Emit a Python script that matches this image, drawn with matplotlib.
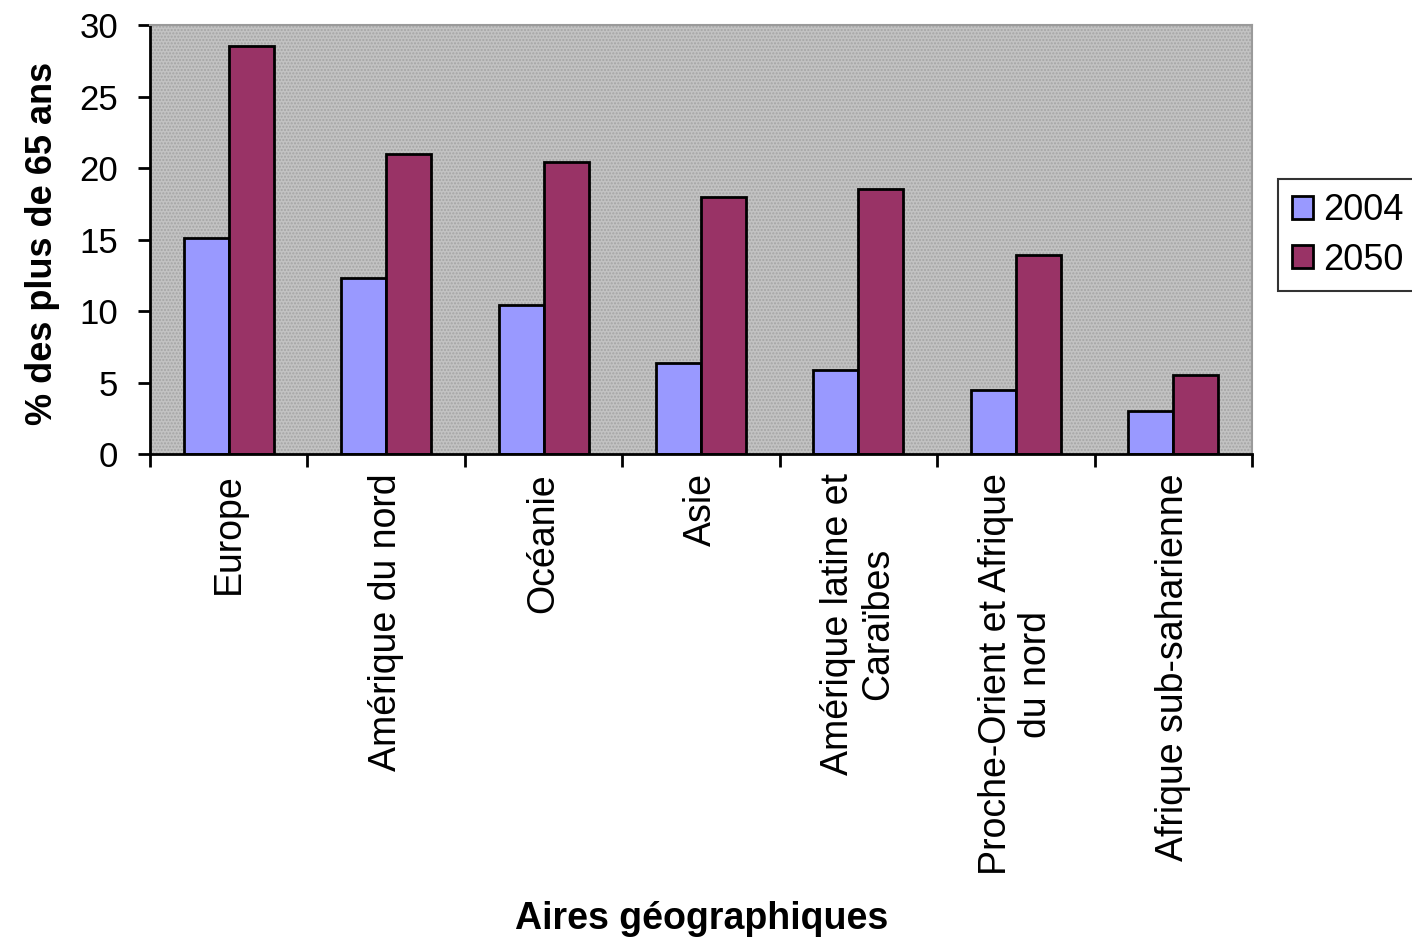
import numpy as np
import matplotlib.pyplot as plt
from matplotlib.patches import Rectangle

plt.rcParams['font.family'] = ['Liberation Sans', 'DejaVu Sans']

categories = ['Europe', 'Amérique du nord', 'Océanie', 'Asie',
              'Amérique latine et\nCaraïbes', 'Proche-Orient et Afrique\ndu nord',
              'Afrique sub-saharienne']
pct_2004 = [15.1, 12.3, 10.4, 6.4, 5.9, 4.5, 3.0]
pct_2050 = [28.5, 21.0, 20.4, 18.0, 18.5, 13.9, 5.5]
series_labels = ['2004', '2050']

fig = plt.figure(figsize=(14.12, 9.44), dpi=100)
ax = fig.add_axes([0.1062, 0.519, 0.7805, 0.4545])

# grey plot area with a fine dotted texture
ax.set_facecolor('#c2c2c2')
bg = Rectangle((0, 0), 1, 1, transform=ax.transAxes, facecolor='none',
               edgecolor='#a4a4a4', hatch='.....', linewidth=0, zorder=0)
ax.add_patch(bg)

x = np.arange(len(categories))
w = 1 / 3.5
ax.bar(x - w / 2, pct_2004, w, color='#9999ff', edgecolor='black',
       linewidth=2, label=series_labels[0], zorder=2)
ax.bar(x + w / 2, pct_2050, w, color='#993366', edgecolor='black',
       linewidth=2, label=series_labels[1], zorder=2)

ax.set_xlim(-0.5, len(categories) - 0.5)
ax.set_ylim(0, 30)
ax.set_yticks(range(0, 31, 5))

# ticks sit between the groups, labels at the group centres
ax.set_xticks(np.arange(-0.5, len(categories) + 0.5, 1))
ax.set_xticklabels([])
ax.tick_params(axis='x', direction='out', length=9, width=2)
ax.tick_params(axis='y', direction='out', length=9, width=2,
               labelsize=25, pad=14)
for xi, name in zip(x, categories):
    ax.text(xi, -1.35, name, rotation=90, ha='center', va='top',
            multialignment='center', fontsize=27, linespacing=1.15)

for side in ['top', 'right']:
    ax.spines[side].set_color('#9a9a9a')
    ax.spines[side].set_linewidth(1.5)
for side in ['left', 'bottom']:
    ax.spines[side].set_linewidth(2)

ax.set_ylabel('% des plus de 65 ans', fontsize=26, fontweight='bold')
ax.yaxis.set_label_coords(-0.082, 0.49)
fig.text(0.4966, 0.026, 'Aires géographiques', ha='center', va='center',
         fontsize=27, fontweight='bold')

leg = ax.legend(loc='upper left', bbox_to_anchor=(0.905, 0.81),
                bbox_transform=fig.transFigure, fontsize=26, frameon=True,
                fancybox=False, handlelength=0.6, handleheight=0.6,
                handletextpad=0.27, borderpad=0.38, labelspacing=0.4,
                borderaxespad=0)
leg.get_frame().set_edgecolor('black')
leg.get_frame().set_linewidth(1.5)

fig.savefig('out.png', dpi=100)
